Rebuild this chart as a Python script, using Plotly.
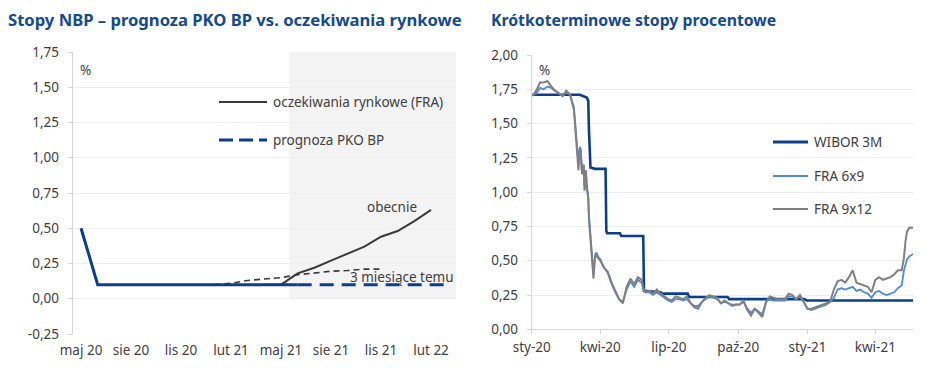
import plotly.graph_objects as go

W, H = 948, 377

# ---------------- Left chart data ----------------
months = ["maj 20", "cze 20", "lip 20", "sie 20", "wrz 20", "paź 20", "lis 20", "gru 20",
          "sty 21", "lut 21", "mar 21", "kwi 21", "maj 21", "cze 21", "lip 21", "sie 21",
          "wrz 21", "paź 21", "lis 21", "gru 21", "sty 22", "lut 22", "mar 22"]
nbp_months = months[0:14]
nbp_rate = [0.50, 0.10, 0.10, 0.10, 0.10, 0.10, 0.10, 0.10, 0.10, 0.10, 0.10, 0.10, 0.10, 0.10]
pko_months = months[13:23]
pko_forecast = [0.10, 0.10, 0.10, 0.10, 0.10, 0.10, 0.10, 0.10, 0.10, 0.10]
fra_now_months = months[11:22]
fra_now = [0.10, 0.10, 0.18, 0.22, 0.27, 0.32, 0.37, 0.44, 0.48, 0.55, 0.63]
fra_3m_months = months[8:19]
fra_3m = [0.10, 0.11, 0.13, 0.14, 0.15, 0.17, 0.185, 0.195, 0.20, 0.21, 0.21]
left_yticks = [-0.25, 0.0, 0.25, 0.5, 0.75, 1.0, 1.25, 1.5, 1.75]
left_yticktext = ["-0,25", "0,00", "0,25", "0,50", "0,75", "1,00", "1,25", "1,50", "1,75"]

# ---------------- Right chart data ----------------
wibor_dates = ["2020-01-02", "2020-03-05", "2020-03-14", "2020-03-16", "2020-03-17", "2020-03-18",
               "2020-03-19", "2020-03-25", "2020-04-08", "2020-04-09", "2020-04-10", "2020-04-27",
               "2020-04-29", "2020-05-28", "2020-05-29", "2020-06-20", "2020-06-22", "2020-07-26",
               "2020-07-28", "2020-09-17", "2020-09-19", "2020-12-28", "2020-12-31", "2021-05-21"]
wibor_3m = [1.71, 1.71, 1.69, 1.67, 1.45, 1.22,
            1.18, 1.17, 1.17, 0.72, 0.70, 0.70,
            0.68, 0.68, 0.28, 0.27, 0.26, 0.26,
            0.235, 0.235, 0.22, 0.22, 0.21, 0.21]

fra_dates = [
    "2020-01-02", "2020-01-07", "2020-01-12", "2020-01-17", "2020-01-22", "2020-01-27",
    "2020-02-01", "2020-02-06", "2020-02-11", "2020-02-16", "2020-02-21", "2020-02-26", "2020-02-28", "2020-02-29",
    "2020-03-01", "2020-03-02", "2020-03-03", "2020-03-04", "2020-03-05", "2020-03-06", "2020-03-07",
    "2020-03-08", "2020-03-09", "2020-03-10", "2020-03-11", "2020-03-12", "2020-03-13", "2020-03-14",
    "2020-03-15", "2020-03-16", "2020-03-17", "2020-03-18", "2020-03-19", "2020-03-20", "2020-03-21",
    "2020-03-22", "2020-03-23", "2020-03-24", "2020-03-25", "2020-03-27", "2020-03-29",
    "2020-04-01", "2020-04-06", "2020-04-11", "2020-04-16", "2020-04-21", "2020-04-26",
    "2020-05-01", "2020-05-06", "2020-05-11", "2020-05-16", "2020-05-21", "2020-05-26", "2020-05-28", "2020-05-31",
    "2020-06-05", "2020-06-10", "2020-06-15", "2020-06-20", "2020-06-25", "2020-06-30",
    "2020-07-05", "2020-07-10", "2020-07-15", "2020-07-20", "2020-07-25", "2020-07-30",
    "2020-08-04", "2020-08-09", "2020-08-14", "2020-08-19", "2020-08-24", "2020-08-29",
    "2020-09-03", "2020-09-08", "2020-09-13", "2020-09-18", "2020-09-23", "2020-09-28",
    "2020-10-03", "2020-10-08", "2020-10-13", "2020-10-18", "2020-10-23", "2020-10-28",
    "2020-11-02", "2020-11-07", "2020-11-12", "2020-11-17", "2020-11-22", "2020-11-27",
    "2020-12-02", "2020-12-07", "2020-12-12", "2020-12-17", "2020-12-22", "2020-12-27",
    "2021-01-01", "2021-01-06", "2021-01-11", "2021-01-16", "2021-01-21", "2021-01-26", "2021-01-31",
    "2021-02-05", "2021-02-10", "2021-02-15", "2021-02-20", "2021-02-25",
    "2021-03-02", "2021-03-07", "2021-03-12", "2021-03-17", "2021-03-22", "2021-03-27",
    "2021-04-01", "2021-04-06", "2021-04-11", "2021-04-16", "2021-04-21", "2021-04-26",
    "2021-05-01", "2021-05-06", "2021-05-09", "2021-05-11", "2021-05-13", "2021-05-16", "2021-05-21",
]
fra_6x9 = [
    1.71, 1.72, 1.76, 1.75, 1.77, 1.76,
    1.74, 1.72, 1.70, 1.73, 1.71, 1.62, 1.50, 1.43,
    1.36, 1.30, 1.22, 1.29, 1.33, 1.31, 1.22,
    1.16, 1.18, 1.20, 1.05, 1.12, 1.16, 1.06,
    1.01, 0.97, 0.83, 0.75, 0.67, 0.58, 0.50,
    0.44, 0.40, 0.47, 0.54, 0.56, 0.53,
    0.51, 0.45, 0.41, 0.33, 0.27, 0.22,
    0.20, 0.29, 0.35, 0.31, 0.36, 0.34, 0.29, 0.27,
    0.27, 0.25, 0.27, 0.25, 0.23, 0.21,
    0.20, 0.22, 0.22, 0.21, 0.22, 0.19,
    0.17, 0.17, 0.20, 0.22, 0.24, 0.23,
    0.22, 0.19, 0.20, 0.19, 0.18, 0.18,
    0.18, 0.20, 0.15, 0.12, 0.15, 0.13,
    0.11, 0.20, 0.22, 0.21, 0.21, 0.21,
    0.21, 0.24, 0.24, 0.22, 0.24, 0.20,
    0.15, 0.14, 0.15, 0.16, 0.17, 0.18, 0.20,
    0.23, 0.29, 0.30, 0.29, 0.30,
    0.31, 0.28, 0.29, 0.27, 0.26, 0.23,
    0.27, 0.28, 0.26, 0.25, 0.26, 0.27,
    0.30, 0.32, 0.43, 0.48, 0.51, 0.53, 0.55,
]
fra_9x12 = [
    1.70, 1.74, 1.80, 1.80, 1.81, 1.77,
    1.74, 1.72, 1.70, 1.74, 1.71, 1.60, 1.47, 1.40,
    1.32, 1.26, 1.16, 1.25, 1.31, 1.32, 1.18,
    1.13, 1.17, 1.20, 1.01, 1.10, 1.15, 1.03,
    0.99, 0.96, 0.80, 0.72, 0.65, 0.56, 0.48,
    0.42, 0.37, 0.45, 0.52, 0.55, 0.52,
    0.50, 0.45, 0.42, 0.34, 0.28, 0.22,
    0.19, 0.31, 0.37, 0.33, 0.38, 0.36, 0.30, 0.27,
    0.28, 0.26, 0.29, 0.26, 0.24, 0.22,
    0.21, 0.24, 0.23, 0.22, 0.24, 0.19,
    0.16, 0.15, 0.20, 0.23, 0.25, 0.24,
    0.23, 0.19, 0.21, 0.19, 0.17, 0.18,
    0.18, 0.21, 0.14, 0.10, 0.15, 0.12,
    0.09, 0.20, 0.24, 0.23, 0.22, 0.22,
    0.22, 0.26, 0.25, 0.22, 0.25, 0.20,
    0.15, 0.15, 0.16, 0.17, 0.18, 0.19, 0.20,
    0.29, 0.35, 0.36, 0.34, 0.38,
    0.43, 0.34, 0.33, 0.32, 0.31, 0.27,
    0.36, 0.38, 0.36, 0.37, 0.38, 0.40,
    0.43, 0.43, 0.52, 0.64, 0.71, 0.74, 0.74,
]
right_xticks = ["2020-01-01", "2020-04-01", "2020-07-01", "2020-10-01", "2021-01-01", "2021-04-01"]
right_xticktext = ["sty-20", "kwi-20", "lip-20", "paź-20", "sty-21", "kwi-21"]
right_yticks = [0.0, 0.25, 0.5, 0.75, 1.0, 1.25, 1.5, 1.75, 2.0]
right_yticktext = ["0,00", "0,25", "0,50", "0,75", "1,00", "1,25", "1,50", "1,75", "2,00"]

# ---------------- Styling ----------------
FONT = "Noto Sans"
TXT = "#404040"
TITLE_C = "#154a8e"
NAVY = "#0b3f8c"
LBLUE = "#4f8ad6"
GRAY = "#808080"
BLACK = "#3a3a3a"
AXIS_C = "#d6d6d6"
GRID_C = "#efefef"


def fx(p):
    return p / W


def fy(p):
    return 1 - p / H


L_X = [fx(72.7), fx(456)]
L_Y = [fy(334), fy(52)]
R_X = [fx(531.7), fx(913)]
R_Y = [fy(329.3), fy(55)]
zero_pos = L_Y[0] + (0.25 / 2.0) * (L_Y[1] - L_Y[0])

fig = go.Figure()

# Left chart: market expectations (black), then NBP rate / forecast (navy, on top)
fig.add_trace(go.Scatter(x=fra_3m_months, y=fra_3m, mode="lines", xaxis="x", yaxis="y",
                         line=dict(color=BLACK, width=1.6, dash="6px,4px"),
                         name="3 miesiące temu"))
fig.add_trace(go.Scatter(x=fra_now_months, y=fra_now, mode="lines", xaxis="x", yaxis="y",
                         line=dict(color=BLACK, width=2),
                         name="oczekiwania rynkowe (FRA)"))
fig.add_trace(go.Scatter(x=nbp_months, y=nbp_rate, mode="lines", xaxis="x", yaxis="y",
                         line=dict(color=NAVY, width=3), name="stopa NBP"))
fig.add_trace(go.Scatter(x=pko_months, y=pko_forecast, mode="lines", xaxis="x", yaxis="y",
                         line=dict(color=NAVY, width=3, dash="14px,8px"),
                         name="prognoza PKO BP"))

# Right chart
fig.add_trace(go.Scatter(x=wibor_dates, y=wibor_3m, mode="lines", xaxis="x2", yaxis="y2",
                         line=dict(color=NAVY, width=2.6), name="WIBOR 3M"))
fig.add_trace(go.Scatter(x=fra_dates, y=fra_6x9, mode="lines", xaxis="x2", yaxis="y2",
                         line=dict(color=LBLUE, width=1.8), name="FRA 6x9"))
fig.add_trace(go.Scatter(x=fra_dates, y=fra_9x12, mode="lines", xaxis="x2", yaxis="y2",
                         line=dict(color=GRAY, width=2), name="FRA 9x12"))

tickfont = dict(family=FONT, size=13.5, color=TXT)

fig.update_layout(
    template="none",
    width=W, height=H,
    margin=dict(l=0, r=0, t=0, b=0, pad=0, autoexpand=False),
    showlegend=False,
    paper_bgcolor="white", plot_bgcolor="rgba(0,0,0,0)",
    font=dict(family=FONT, color=TXT, size=13.5),
    # left chart: category axis carrying the month labels at the bottom
    xaxis=dict(domain=L_X, anchor="y", type="category",
               categoryorder="array", categoryarray=months, range=[-0.5, 22.5],
               dtick=3, tick0=0, ticks="", showline=False,
               showgrid=False, zeroline=False, automargin=False, tickangle=0,
               tickfont=tickfont, ticklabelstandoff=6),
    yaxis=dict(domain=L_Y, anchor="x", range=[-0.25, 1.75], tickvals=left_yticks,
               ticktext=left_yticktext, showline=True, linecolor=AXIS_C, ticks="outside",
               ticklen=4, tickcolor=AXIS_C, showgrid=True, gridcolor=GRID_C, zeroline=False,
               automargin=False, tickfont=tickfont, ticklabelstandoff=6),
    # left chart: axis line with tick marks at the 0 level
    xaxis3=dict(domain=L_X, anchor="y3", type="category",
                categoryorder="array", categoryarray=months, range=[-0.5, 22.5],
                dtick=3, tick0=0, tickson="boundaries", ticks="outside", ticklen=4,
                tickcolor=AXIS_C, tickwidth=1, showline=True, linecolor=AXIS_C, linewidth=1,
                showticklabels=False, showgrid=False, zeroline=False, automargin=False),
    yaxis3=dict(domain=[zero_pos, L_Y[1]], anchor="x3", range=[0, 1.75], showline=False,
                ticks="", showticklabels=False, showgrid=False, zeroline=False, automargin=False),
    xaxis2=dict(domain=R_X, anchor="y2", type="date", range=["2020-01-01", "2021-05-21"],
                tickvals=right_xticks, ticktext=right_xticktext, showline=True, linecolor=AXIS_C,
                ticks="outside", ticklen=4, tickcolor=AXIS_C, showgrid=False, zeroline=False,
                automargin=False, tickangle=0, tickfont=tickfont, ticklabelstandoff=1),
    yaxis2=dict(domain=R_Y, anchor="x2", range=[0, 2.0], tickvals=right_yticks,
                ticktext=right_yticktext, showline=True, linecolor=AXIS_C, ticks="outside",
                ticklen=4, tickcolor=AXIS_C, showgrid=True, gridcolor=GRID_C, zeroline=False,
                automargin=False, tickfont=tickfont, ticklabelstandoff=6),
)

# Forecast period shading
fig.add_shape(type="rect", xref="x", yref="y", x0=12.5, x1=22.5, y0=0, y1=1.75,
              fillcolor="#f3f3f3", line=dict(width=0), layer="below")

# Titles
fig.add_annotation(text="<b>Stopy NBP – prognoza PKO BP vs. oczekiwania rynkowe</b>",
                   xref="paper", yref="paper", x=fx(6), y=fy(20), xanchor="left", yanchor="middle",
                   showarrow=False, font=dict(family=FONT, size=16.6, color=TITLE_C))
fig.add_annotation(text="<b>Krótkoterminowe stopy procentowe</b>",
                   xref="paper", yref="paper", x=fx(489), y=fy(20), xanchor="left", yanchor="middle",
                   showarrow=False, font=dict(family=FONT, size=15.8, color=TITLE_C))

# Unit labels
for xp in (85, 544):
    fig.add_annotation(text="%", xref="paper", yref="paper", x=fx(xp), y=fy(70),
                       xanchor="center", yanchor="middle", showarrow=False,
                       font=dict(family=FONT, size=13.5, color=TXT))

# Line labels
fig.add_annotation(text="obecnie", xref="paper", yref="paper", x=fx(392), y=fy(207),
                   xanchor="center", yanchor="middle", showarrow=False,
                   font=dict(family=FONT, size=13.5, color=TXT))
fig.add_annotation(text="3 miesiące temu", xref="paper", yref="paper", x=fx(402), y=fy(277),
                   xanchor="center", yanchor="middle", showarrow=False,
                   font=dict(family=FONT, size=13.5, color=TXT))

# Legends (drawn manually to match sample length)
legend_items = [
    (219, 267, 102, BLACK, 2.2, "solid", "oczekiwania rynkowe (FRA)", 271),
    (219, 267, 140, NAVY, 3, "14px,6px", "prognoza PKO BP", 271),
    (773, 808, 142, NAVY, 3, "solid", "WIBOR 3M", 812),
    (773, 808, 176, LBLUE, 2, "solid", "FRA 6x9", 812),
    (773, 808, 209, GRAY, 2, "solid", "FRA 9x12", 812),
]
for x0, x1, yy, col, wid, dash, label, tx in legend_items:
    fig.add_shape(type="line", xref="paper", yref="paper", x0=fx(x0), x1=fx(x1), y0=fy(yy), y1=fy(yy),
                  line=dict(color=col, width=wid, dash=dash))
    fig.add_annotation(text=label, xref="paper", yref="paper", x=fx(tx), y=fy(yy),
                       xanchor="left", yanchor="middle", showarrow=False,
                       font=dict(family=FONT, size=13.5, color=TXT))

fig.write_html("out.html", include_plotlyjs=True, full_html=True,
               config={"displayModeBar": False, "staticPlot": True},
               post_script="document.body.style.margin='0';document.body.style.overflow='hidden';")
